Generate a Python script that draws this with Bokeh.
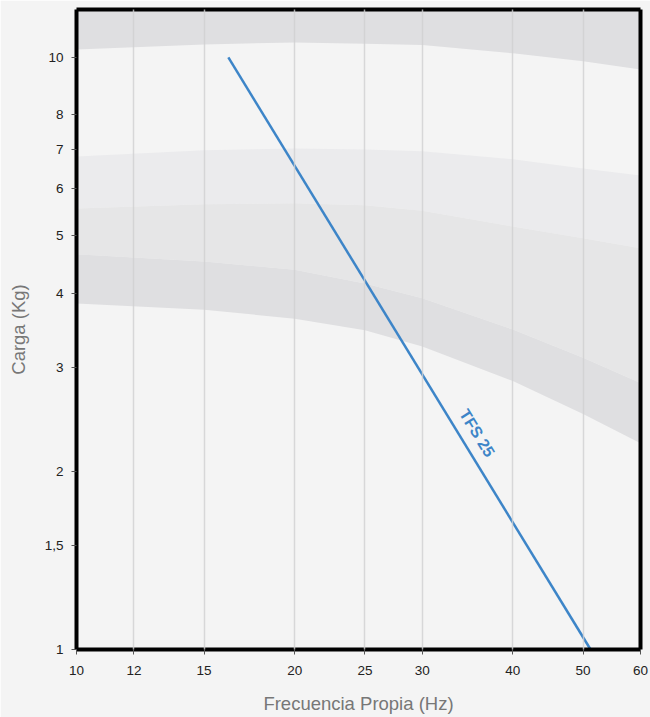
from bokeh.plotting import figure
from bokeh.models import Range1d, FixedTicker, PolyAnnotation, Label, LogAxis
from bokeh.embed import file_html
from bokeh.resources import INLINE

# --- data ---
x_ticks = [10, 12, 15, 20, 25, 30, 40, 50, 60]
x_labels = ["10", "12", "15", "20", "25", "30", "40", "50", "60"]
y_ticks = [1, 1.5, 2, 3, 4, 5, 6, 7, 8, 10]
y_labels = ["1", "1,5", "2", "3", "4", "5", "6", "7", "8", "10"]

tfs25_freq = [16.2, 51.2]
tfs25_load = [10, 1]

# decorative background bands (freq, load)
band_freq = [7.8, 10, 15, 20, 25, 30, 40, 50, 60, 62]
edge_top = [13, 13, 13, 13, 13, 13, 13, 13, 13, 13]
edge_a = [10.16, 10.31, 10.52, 10.60, 10.55, 10.50, 10.16, 9.85, 9.54, 9.47]
edge_b = [6.67, 6.80, 6.97, 7.02, 6.99, 6.94, 6.73, 6.49, 6.32, 6.27]
edge_c = [5.54, 5.56, 5.65, 5.67, 5.63, 5.51, 5.18, 4.95, 4.76, 4.72]
edge_d = [4.70, 4.65, 4.52, 4.38, 4.15, 3.92, 3.47, 3.11, 2.82, 2.77]
edge_e = [3.87, 3.84, 3.75, 3.62, 3.46, 3.25, 2.84, 2.50, 2.23, 2.18]

FONT = "Liberation Sans"
BG = "#f4f4f4"

p = figure(width=650, height=717, x_axis_type="log", y_axis_type="log",
           x_range=Range1d(10, 60), y_range=Range1d(1, 12.05),
           output_backend="svg", toolbar_location=None,
           min_border_left=76, min_border_right=10, min_border_top=9, min_border_bottom=68)
p.background_fill_color = BG
p.border_fill_color = BG
p.outline_line_color = None

# background bands
bands = [
    (edge_top, edge_a, "#dfdfe1"),
    (edge_b, edge_c, "#ebebed"),
    (edge_c, edge_d, "#e6e6e7"),
    (edge_d, edge_e, "#dfdfe1"),
]
for upper, lower, col in bands:
    xs = list(band_freq) + list(reversed(band_freq))
    ys = list(upper) + list(reversed(lower))
    p.add_layout(PolyAnnotation(xs=xs, ys=ys, fill_color=col, fill_alpha=1.0,
                                line_color=None, level="annotation"))

# grid (inner ticks only, above the bands)
p.ygrid.grid_line_color = None
p.xgrid.ticker = FixedTicker(ticks=x_ticks[1:-1])
p.xgrid.grid_line_color = "#cfcfd1"
p.xgrid.grid_line_width = 1.5
p.xgrid.grid_line_alpha = 0.8
p.xgrid.level = "overlay"

r = p.line(tfs25_freq, tfs25_load, line_color="#3d85c8", line_width=2.5)
r.level = "overlay"

p.add_layout(Label(x=35.7, y=2.32, text="TFS 25", angle=-1.021,
                   text_align="center", text_baseline="middle",
                   text_color="#3d85c8", text_font=FONT,
                   text_font_size="16px", text_font_style="bold",
                   level="overlay"))

# axes
p.xaxis.ticker = FixedTicker(ticks=x_ticks)
p.yaxis.ticker = FixedTicker(ticks=y_ticks)
p.xaxis.major_label_overrides = {t: l for t, l in zip(x_ticks, x_labels)}
p.yaxis.major_label_overrides = {t: l for t, l in zip(y_ticks, y_labels)}
for ax in (p.xaxis, p.yaxis):
    ax.level = "overlay"
    ax.axis_line_color = "black"
    ax.axis_line_width = 4
    ax.major_tick_line_color = "#555555"
    ax.major_tick_out = 5
    ax.major_tick_in = 0
    ax.minor_tick_line_color = None
    ax.major_label_text_font = FONT
    ax.major_label_text_font_size = "13.5px"
    ax.major_label_text_color = "#222222"
    ax.axis_label_text_font = FONT
    ax.axis_label_text_font_size = "18.5px"
    ax.axis_label_text_font_style = "normal"
    ax.axis_label_text_color = "#777777"

p.xaxis.axis_label = "Frecuencia Propia (Hz)"
p.yaxis.axis_label = "Carga (Kg)"
p.xaxis.major_label_standoff = 11
p.xaxis.axis_label_standoff = 15
p.yaxis.major_label_standoff = 8
p.yaxis.axis_label_standoff = 13

# top and right frame lines as bare axes
for side in ("above", "right"):
    ax = LogAxis(ticker=FixedTicker(ticks=[]), axis_line_color="black",
                 axis_line_width=4, major_tick_out=0, major_tick_in=0,
                 minor_tick_out=0, minor_tick_in=0, major_label_standoff=0,
                 major_label_text_font_size="0px", level="overlay")
    p.add_layout(ax, side)

open("out.html", "w").write(file_html(p, INLINE))
